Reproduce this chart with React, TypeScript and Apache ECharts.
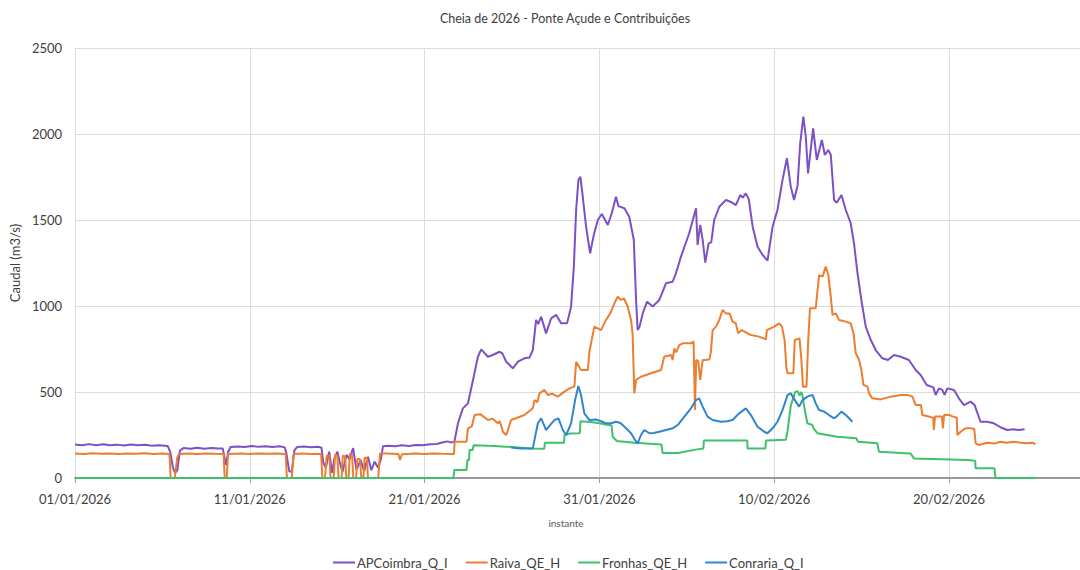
import React, { useEffect, useRef } from "react";
import * as echarts from "echarts";

// x values are days since 01/01/2026 00:00
const xTickLabels = ["01/01/2026", "11/01/2026", "21/01/2026", "31/01/2026", "10/02/2026", "20/02/2026"];
const seriesNames = ["APCoimbra_Q_I", "Raiva_QE_H", "Fronhas_QE_H", "Conraria_Q_I"];

const apcoimbra: number[][] = [
  [0,195],[0.4,190],[0.8,197],[1.2,191],[1.6,196],[2.0,190],[2.4,194],[2.8,189],[3.2,195],[3.6,190],[4.0,193],[4.4,188],[4.8,190],[5.3,186],[5.45,150],[5.6,60],[5.72,30],[5.85,45],[6.0,160],[6.2,174],[6.6,170],[7.0,176],[7.4,170],[7.8,175],[8.2,172],[8.45,172],[8.55,120],[8.65,75],[8.75,150],[8.9,180],[9.3,183],[9.7,180],[10.1,186],[10.5,181],[10.9,185],[11.3,180],[11.7,184],[12.0,178],[12.1,140],[12.25,40],[12.4,35],[12.55,160],[12.7,180],[13.1,183],[13.5,179],[13.9,182],[14.1,176],[14.2,90],[14.35,60],[14.54,153],[14.71,30],[14.85,120],[15.01,153],[15.15,90],[15.3,35],[15.53,134],[15.7,110],[15.91,174],[16.1,47],[16.34,105],[16.54,40],[16.76,124],[16.95,45],[17.14,95],[17.34,60],[17.5,110],[17.62,185],[17.9,188],[18.3,184],[18.7,190],[19.1,186],[19.5,192],[19.9,190],[20.3,196],[20.7,198],[21.0,206],[21.3,213],[21.5,207],[21.7,210],
  [21.91,318],[22.19,405],[22.48,434],[22.77,570],[23.05,705],[23.24,748],[23.62,705],[23.9,715],[24.29,734],[24.45,725],[24.67,676],[25.05,638],[25.34,676],[25.71,696],[26.0,700],[26.19,744],[26.38,919],[26.5,895],[26.67,938],[26.95,841],[27.24,928],[27.53,948],[27.81,899],[28.15,899],[28.38,996],[28.54,1229],[28.67,1558],[28.8,1733],[28.91,1752],[29.0,1680],[29.24,1461],[29.47,1306],[29.68,1413],[29.91,1500],[30.14,1535],[30.48,1471],[30.71,1539],[30.95,1635],[31.09,1581],[31.43,1568],[31.71,1519],[31.97,1384],[32.1,1035],[32.19,860],[32.3,880],[32.48,957],[32.73,1025],[33.05,997],[33.43,1035],[33.81,1132],[34.19,1141],[34.38,1190],[34.67,1287],[35.14,1423],[35.53,1568],[35.62,1355],[35.77,1471],[35.91,1384],[36.06,1252],[36.25,1364],[36.4,1370],[36.57,1500],[36.86,1577],[37.24,1616],[37.53,1605],[37.81,1587],[38.06,1645],[38.2,1630],[38.38,1655],[38.55,1620],[38.77,1461],[39.05,1345],[39.34,1297],[39.62,1264],[39.91,1461],[40.19,1558],[40.48,1733],[40.73,1859],[40.95,1694],[41.14,1616],[41.34,1700],[41.49,1946],[41.67,2101],[41.81,1984],[41.94,1771],[42.23,2033],[42.44,1849],[42.73,1965],[42.9,1878],[43.09,1907],[43.24,1880],[43.43,1616],[43.58,1600],[43.85,1645],[44.1,1558],[44.38,1481],[44.57,1364],[44.77,1190],[44.99,1035],[45.24,880],[45.53,802],[45.81,744],[46.19,696],[46.51,686],[46.86,715],[47.24,705],[47.71,686],[48.1,628],[48.38,599],[48.73,541],[49.11,527],[49.24,483],[49.43,521],[49.62,512],[49.75,483],[49.91,521],[50.29,512],[50.57,463],[50.86,424],[51.24,444],[51.47,424],[51.81,327],[52.19,327],[52.57,318],[52.95,295],[53.34,279],[53.71,283],[54.0,279],[54.33,283]
];

const raiva: number[][] = [
  [0,143],[0.5,140],[1,144],[1.5,141],[2,143],[2.5,140],[3,143],[3.5,141],[4,144],[4.5,140],[5,142],[5.4,140],[5.47,0],[5.7,0],[5.85,120],[5.95,140],[6.5,142],[7,140],[7.5,143],[8,141],[8.5,140],[8.56,0],[8.68,0],[8.75,140],[9.5,142],[10,140],[10.5,143],[11,141],[11.5,142],[12.05,140],[12.12,0],[12.4,0],[12.5,140],[13,142],[13.5,140],[14.08,140],
  [14.15,0],[14.3,0],[14.4,130],[14.55,130],[14.62,0],[14.8,0],[14.88,135],[15.0,130],[15.08,0],[15.25,0],[15.32,130],[15.45,125],[15.52,0],[15.65,0],[15.72,140],[15.85,135],[15.92,0],[16.08,0],[16.15,110],[16.3,110],[16.38,0],[16.5,0],[16.57,120],[16.7,115],[16.76,0],[17.35,0],[17.45,143],
  [17.8,142],[18.5,140],[18.6,105],[18.7,138],[19.5,142],[20,140],[20.5,143],[21,141],[21.68,140],[21.72,211],[22.4,211],[22.48,289],[22.7,300],[22.86,366],[23.2,370],[23.62,337],[23.9,345],[24.19,318],[24.3,330],[24.48,269],[24.67,250],[24.95,337],[25.3,350],[25.71,366],[26.19,405],[26.29,453],[26.45,440],[26.57,492],[26.86,512],[27.05,483],[27.3,490],[27.62,473],[28.0,502],[28.29,521],[28.57,531],[28.67,676],[28.95,628],[29.34,628],[29.43,734],[29.71,880],[30.1,860],[30.38,919],[30.67,967],[30.86,1016],[31.05,1054],[31.24,1035],[31.4,1045],[31.62,997],[31.81,919],[31.9,841],[32.0,492],[32.1,570],[32.38,589],[32.95,609],[33.53,628],[33.71,705],[34.1,715],[34.19,686],[34.29,754],[34.4,730],[34.57,773],[34.77,783],[35.24,783],[35.39,793],[35.47,395],[35.54,686],[35.66,680],[35.77,570],[35.91,686],[36.1,686],[36.3,690],[36.38,734],[36.48,860],[36.67,880],[36.86,919],[37.05,977],[37.24,957],[37.45,957],[37.62,909],[37.81,899],[37.94,841],[38.14,860],[38.67,831],[39.14,822],[39.53,806],[39.58,860],[40.0,880],[40.29,899],[40.45,880],[40.6,800],[40.7,640],[40.77,609],[41.1,609],[41.18,802],[41.45,812],[41.55,700],[41.65,531],[41.85,531],[41.95,800],[42.05,987],[42.38,987],[42.57,1180],[42.77,1171],[42.95,1229],[43.1,1180],[43.24,1054],[43.34,948],[43.53,957],[43.71,919],[44.1,909],[44.38,899],[44.54,841],[44.67,725],[44.86,686],[44.99,628],[45.11,541],[45.34,531],[45.43,492],[45.62,463],[46.1,457],[46.67,473],[47.24,483],[47.62,483],[47.91,473],[48.1,424],[48.4,424],[48.48,366],[48.86,357],[49.1,350],[49.14,279],[49.2,357],[49.6,357],[49.66,289],[49.72,366],[50.0,366],[50.25,357],[50.45,350],[50.48,250],[50.67,269],[50.95,289],[51.24,289],[51.45,285],[51.53,202],[51.71,192],[52.19,205],[52.6,200],[52.95,211],[53.3,205],[53.71,211],[54.1,205],[54.48,202],[54.8,205],[54.95,195]
];

const fronhas: number[][] = [
  [0,0],[21.65,0],[21.7,47],[22.4,47],[22.45,105],[22.55,105],[22.57,163],[22.75,163],[22.8,190],[24,186],[25,180],[26.1,172],[26.85,170],[26.88,205],[27.98,205],[28.0,250],[28.3,258],[28.88,260],[28.92,330],[29.5,325],[30.0,318],[30.7,305],[30.76,240],[31,215],[32,205],[33.55,195],[33.62,145],[34.5,145],[35.5,165],[35.95,172],[35.98,218],[38.46,218],[38.48,172],[39.5,172],[39.53,218],[40.67,222],[40.77,275],[40.95,420],[41.2,500],[41.35,505],[41.45,480],[41.55,500],[41.62,480],[41.71,420],[41.9,318],[42.19,308],[42.25,290],[42.48,260],[43.6,240],[44.7,231],[44.8,211],[45.9,202],[46.0,153],[47.8,143],[48.0,114],[51.05,105],[51.5,100],[51.53,56],[52.6,56],[52.67,0],[55.0,0]
];

const conraria: number[][] = [
  [24.95,178],[25.5,172],[26.19,172],[26.48,318],[26.67,347],[26.95,279],[27.2,310],[27.43,337],[27.66,347],[27.91,279],[28.1,250],[28.38,318],[28.61,453],[28.8,535],[28.95,483],[29.14,376],[29.43,337],[29.8,340],[30.1,330],[30.38,318],[30.67,318],[30.95,327],[31.2,320],[31.53,289],[31.81,260],[32.04,221],[32.19,202],[32.38,250],[32.57,279],[32.86,260],[33.1,262],[33.43,269],[33.81,279],[34.19,289],[34.48,308],[34.86,357],[35.24,405],[35.53,453],[35.71,463],[35.91,415],[36.19,357],[36.48,337],[36.95,327],[37.3,330],[37.62,337],[38.0,376],[38.38,405],[38.67,366],[39.05,298],[39.43,269],[39.62,260],[39.91,289],[40.19,327],[40.48,395],[40.77,483],[40.95,492],[41.24,444],[41.43,415],[41.62,453],[41.9,473],[42.19,483],[42.38,434],[42.57,395],[42.86,386],[43.14,366],[43.43,347],[43.6,360],[43.85,386],[44.1,366],[44.48,327]
];

const seriesData = [apcoimbra, raiva, fronhas, conraria];
const seriesColors = ["#7D50C4", "#ED7D31", "#3DC26B", "#2F86CE"];

const FONT = "Lato, 'Liberation Sans', sans-serif";

export default function App() {
  const ref = useRef<HTMLDivElement>(null);
  useEffect(() => {
    if (!ref.current) return;
    const chart = echarts.init(ref.current, undefined, { renderer: "svg" });
    chart.setOption({
      animation: false,
      backgroundColor: "#ffffff",
      textStyle: { fontFamily: FONT },
      grid: { left: 73, right: 0, top: 48, bottom: 92 },
      graphic: [
        {
          type: "text",
          x: 565,
          y: 18,
          style: {
            text: "Cheia de 2026 - Ponte Açude e Contribuições",
            fontFamily: FONT,
            fontSize: 12.5,
            fill: "#404040",
            textAlign: "center",
            textVerticalAlign: "middle",
          },
        },
        {
          type: "text",
          x: 566,
          y: 523,
          style: {
            text: "instante",
            fontFamily: FONT,
            fontSize: 10,
            fill: "#595959",
            textAlign: "center",
            textVerticalAlign: "middle",
          },
        },
      ],
      legend: {
        data: seriesNames.map((name) => ({ name, icon: "rect" })),
        left: 328,
        top: 551,
        itemWidth: 22,
        itemHeight: 2,
        itemGap: 18,
        textStyle: { fontFamily: FONT, fontSize: 13, color: "#404040", padding: [0, 0, 0, -3] },
      },
      xAxis: {
        type: "value",
        min: 0,
        max: 57.5,
        interval: 10,
        axisLine: { show: true, lineStyle: { color: "#9a9a9a", width: 2 } },
        axisTick: { show: true, length: 5, lineStyle: { color: "#9a9a9a" } },
        axisLabel: {
          fontFamily: FONT,
          fontSize: 13,
          color: "#404040",
          margin: 14,
          showMaxLabel: false,
          formatter: (v: number) => (Math.abs(v % 10) < 1e-6 ? xTickLabels[Math.round(v / 10)] ?? "" : ""),
        },
        splitLine: { show: true, showMaxLine: false, lineStyle: { color: "#dcdcdc", width: 1 } },
      },
      yAxis: {
        type: "value",
        min: 0,
        max: 2500,
        interval: 500,
        name: "Caudal (m3/s)",
        nameLocation: "middle",
        nameGap: 43,
        nameTextStyle: { fontFamily: FONT, fontSize: 13, color: "#404040" },
        axisLine: { show: false },
        axisTick: { show: false },
        axisLabel: {
          fontFamily: FONT,
          fontSize: 13,
          color: "#404040",
          margin: 13,
          formatter: (v: number) => String(v),
        },
        splitLine: { show: true, lineStyle: { color: "#dcdcdc", width: 1 } },
      },
      series: seriesNames.map((name, i) => ({
        name,
        type: "line",
        data: seriesData[i],
        symbol: "none",
        showSymbol: false,
        color: seriesColors[i],
        lineStyle: { color: seriesColors[i], width: 2 },
        z: 2 + i,
      })),
    });
    return () => chart.dispose();
  }, []);
  return (
    <div
      ref={ref}
      style={{ position: "fixed", left: 0, top: 0, width: 1080, height: 570, background: "#fff" }}
    />
  );
}
